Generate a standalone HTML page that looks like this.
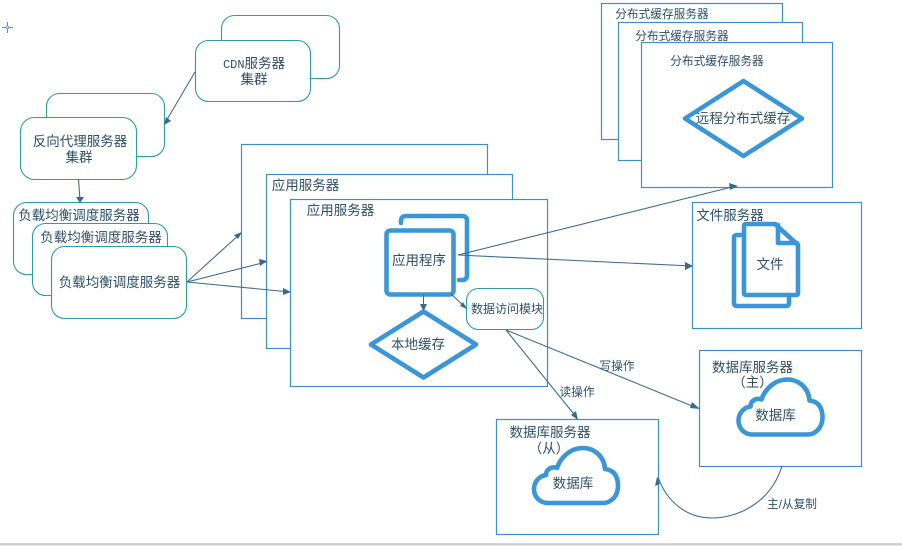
<!DOCTYPE html>
<html><head><meta charset="utf-8">
<style>
html,body{margin:0;padding:0;background:#fff;width:902px;height:546px;overflow:hidden}
svg{display:block}
text{font-family:"Liberation Sans","Noto Sans CJK SC",sans-serif;fill:#2f5068;text-anchor:middle;font-size:13.5px}
text.s{font-size:11.7px}
text.m{font-size:12px}
tspan.c{font-family:"Liberation Mono",monospace;font-size:12px}
.t{fill:#fff;stroke:#2f9c9e;stroke-width:1.1}
.b{fill:#fff;stroke:#3d8fc4;stroke-width:1.2}
.h{fill:#fff;stroke:#3b96d8;stroke-width:4.6;stroke-linejoin:round;stroke-linecap:round}
.l{stroke:#3f6c90;stroke-width:1.1;fill:none}
.a{fill:#356a94}
</style></head><body>
<svg width="902" height="546" viewBox="0 0 902 546" xmlns="http://www.w3.org/2000/svg">
<rect x="0" y="543" width="902" height="3" fill="#e4e4e4"/>
<rect x="0" y="543.5" width="902" height="1.2" fill="#c4c4c4"/>
<path d="M7.5 22v11M2 27.500h11" stroke="#5b8ec0" stroke-width="1"/><circle cx="7.500" cy="27.500" r="1.400" fill="#fff" stroke="#5b8ec0" stroke-width=".8"/>

<!-- CDN -->
<rect class="t" x="221.500" y="15.500" width="118" height="63" rx="13"/>
<rect class="t" x="195.500" y="40.500" width="115" height="61" rx="13"/>
<text x="254" y="68"><tspan class="c">CDN</tspan>服务器</text>
<text x="254" y="84">集群</text>
<!-- proxy -->
<rect class="t" x="46.500" y="93.500" width="118" height="63" rx="13"/>
<rect class="t" x="20.500" y="117.500" width="116" height="62" rx="14"/>
<text x="80" y="146">反向代理服务器</text>
<text x="79" y="162">集群</text>
<!-- LB -->
<rect class="t" x="13.500" y="202.500" width="135" height="72" rx="13"/>
<text x="79" y="220">负载均衡调度服务器</text>
<rect class="t" x="32.500" y="223.500" width="135" height="72" rx="13"/>
<text x="101" y="242">负载均衡调度服务器</text>
<rect class="t" x="51.500" y="246.500" width="135" height="72" rx="13"/>
<text x="119.500" y="287">负载均衡调度服务器</text>

<!-- App servers -->
<rect class="b" x="241.500" y="144.500" width="246" height="174"/>
<rect class="b" x="266.500" y="174.500" width="246" height="174"/>
<text x="305.500" y="190">应用服务器</text>
<rect class="b" x="290.500" y="199.500" width="257" height="187"/>
<text x="340.500" y="215">应用服务器</text>

<path class="h" style="fill:none" d="M401 223v-2q0-5 5-5h56q5 0 5 5v54q0 5-5 5h-3"/>
<rect class="h" x="386.500" y="230.500" width="67" height="64" rx="4"/>
<text x="419" y="265">应用程序</text>
<path class="h" d="M423.500 311.500L476 344.500L423.500 377.500L371 344.500Z"/>
<text x="418" y="349">本地缓存</text>
<rect class="t" x="466.500" y="288.500" width="77" height="41" rx="12"/>
<text class="m" x="507" y="313">数据访问模块</text>

<!-- Dist cache -->
<rect class="b" x="601.500" y="3.500" width="181" height="136"/>
<text class="s" x="662" y="18">分布式缓存服务器</text>
<rect class="b" x="618.500" y="22.500" width="184" height="138"/>
<text class="s" x="682" y="40">分布式缓存服务器</text>
<rect class="b" x="641.500" y="42.500" width="191" height="145"/>
<text class="s" x="717" y="65">分布式缓存服务器</text>
<path class="h" d="M743.500 81L802 118.500L743.500 156L685 118.500Z"/>
<text x="743" y="123">远程分布式缓存</text>

<!-- File -->
<rect class="b" x="692.500" y="202.500" width="169" height="126"/>
<text x="730" y="220">文件服务器</text>
<path class="h" style="fill:none" d="M744 235h-7q-3 0-3 3v65q0 3 3 3h49q3 0 3-3v-7"/>
<path class="h" d="M746 224h29l23 21v48q0 2-2 2h-50q-2 0-2-2v-67q0-2 2-2z"/>
<path class="h" style="fill:none" d="M778 225v18h19"/>
<text x="770" y="269">文件</text>

<!-- DB master -->
<rect class="b" x="699.500" y="350.500" width="162" height="116"/>
<text x="752.500" y="372">数据库服务器</text>
<text x="752.500" y="387">（主）</text>
<g transform="translate(-1.500,0)"><path class="h" d="M754 434.500c-8 0-14-6-14-14 0-7 5-13 12-14 0-6 6-9 11-7 3-9 12-20 26-20 11 0 21 8 22 21 8 1 13 6 13 17 0 10-7 17-15 17z"/></g>
<text x="775.500" y="420">数据库</text>

<!-- DB slave -->
<rect class="b" x="496.500" y="419.500" width="162" height="115"/>
<text x="550" y="437">数据库服务器</text>
<text x="549" y="453">（从）</text>
<g transform="translate(-3,0)"><path class="h" d="M551 503c-8 0-14-6-14-14 0-7 5-13 12-14 0-6 6-9 11-7 3-9 12-20 26-20 11 0 21 8 22 21 8 1 13 6 13 17 0 10-7 17-15 17z"/></g>
<text x="573" y="488">数据库</text>

<!-- connectors -->
<g class="l">
<path d="M195 72L165 123"/>
<path d="M78.500 179L80 201"/>
<path d="M187 282L241 233"/>
<path d="M187 282L266 262"/>
<path d="M187 282L290 292"/>
<path d="M458 255L736 186"/>
<path d="M458 255L692 266"/>
<path d="M423.500 295V309"/>
<path d="M451 294L466 308"/>
<path d="M506 330L697 408"/>
<path d="M506 330L577 418"/>
<path d="M782 466C770 505 735 518 712 518C685 518 666 500 658 477"/>
</g>
<g class="a">
<path d="M164 125L166 117L171 121Z"/>
<path d="M80 203L76 197L84 197Z"/>
<path d="M242 232L234 235L238 239Z"/>
<path d="M267 261L259 259L260 266Z"/>
<path d="M291 292L283 288L283 295Z"/>
<path d="M738 186L729 183L730 190Z"/>
<path d="M693 266L685 262L685 270Z"/>
<path d="M423.500 311L420 304L427 304Z"/>
<path d="M467 309L460 306L463 302Z"/>
<path d="M700 409L692 402L690 408Z"/>
<path d="M578 420L571 415L576 411Z"/>
<path d="M657 477L660 484L655 486Z"/>
</g>

<text class="s" x="617" y="370">写操作</text>
<text class="s" x="577" y="396">读操作</text>
<text class="s" x="792" y="508">主/从复制</text>
</svg>
</body></html>
